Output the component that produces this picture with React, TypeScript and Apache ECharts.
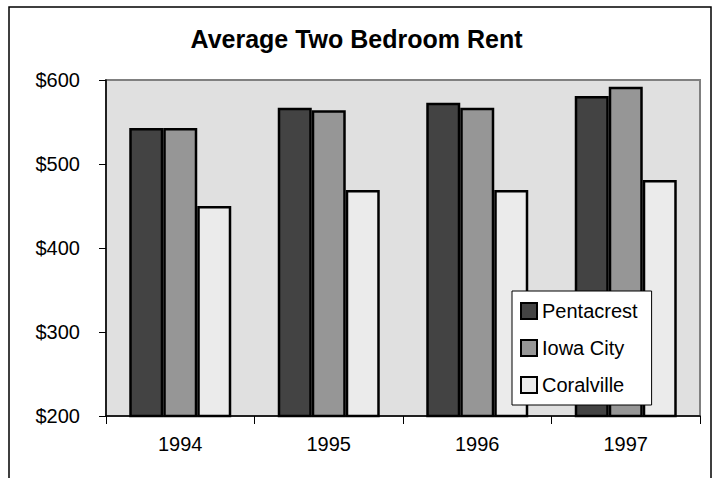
import React, { useEffect, useRef } from "react";
import * as echarts from "echarts";

const years = ["1994", "1995", "1996", "1997"];
const pentacrest = [543, 567, 573, 581];
const iowaCity = [543, 564, 567, 592];
const coralville = [450, 469, 469, 481];
const seriesNames = ["Pentacrest", "Iowa City", "Coralville"];
const seriesColors = ["#434343", "#969696", "#ebebeb"];
const yTicks = { min: 200, max: 600, interval: 100 };

export default function App() {
  const ref = useRef<HTMLDivElement>(null);
  useEffect(() => {
    if (!ref.current) return;
    const chart = echarts.init(ref.current, undefined, { renderer: "svg" });
    const font = "'Liberation Sans', Arial, sans-serif";
    const dataSets = [pentacrest, iowaCity, coralville];
    chart.setOption({
      animation: false,
      backgroundColor: "#ffffff",
      textStyle: { fontFamily: font },
      title: {
        text: "Average Two Bedroom Rent",
        left: "center",
        top: 26,
        padding: 0,
        textStyle: { fontFamily: font, fontSize: 25, fontWeight: "bold", color: "#000" },
      },
      graphic: [
        {
          type: "rect",
          shape: { x: 9, y: 7, width: 702, height: 490 },
          style: { fill: "none", stroke: "#000", lineWidth: 1.5 },
          silent: true,
          z: 100,
        },
      ],
      legend: {
        orient: "vertical",
        left: 512,
        top: 291,
        padding: [10, 14, 10, 8],
        itemWidth: 16,
        itemHeight: 16,
        itemGap: 17,
        backgroundColor: "#ffffff",
        borderColor: "#000",
        borderWidth: 1,
        icon: "rect",
        textStyle: { fontFamily: font, fontSize: 20, color: "#000" },
        data: seriesNames,
        z: 10,
      },
      grid: {
        left: 106,
        right: 13,
        top: 80,
        bottom: 62,
        show: true,
        backgroundColor: "#e0e0e0",
        borderColor: "#808080",
        borderWidth: 2,
      },
      xAxis: {
        type: "category",
        data: years,
        axisLine: { lineStyle: { color: "#000", width: 1.5 } },
        axisTick: { show: true, length: 8, lineStyle: { color: "#000" } },
        axisLabel: { fontFamily: font, fontSize: 20, color: "#000", margin: 18 },
        splitLine: { show: false },
      },
      yAxis: {
        type: "value",
        min: yTicks.min,
        max: yTicks.max,
        interval: yTicks.interval,
        axisLine: { show: true, lineStyle: { color: "#000", width: 1.5 } },
        axisTick: { show: true, length: 7, lineStyle: { color: "#000" } },
        axisLabel: {
          fontFamily: font,
          fontSize: 20,
          color: "#000",
          margin: 26,
          formatter: (v: number) => "$" + v,
        },
        splitLine: { show: false },
      },
      series: seriesNames.map((name, i) => ({
        name,
        type: "bar",
        data: dataSets[i],
        barWidth: 34,
        barGap: "0%",
        itemStyle: { color: seriesColors[i], borderColor: "#000", borderWidth: 2.5 },
      })),
    });
    return () => chart.dispose();
  }, []);
  return (
    <div
      ref={ref}
      style={{ position: "absolute", left: 0, top: 0, width: 713, height: 478 }}
    />
  );
}
